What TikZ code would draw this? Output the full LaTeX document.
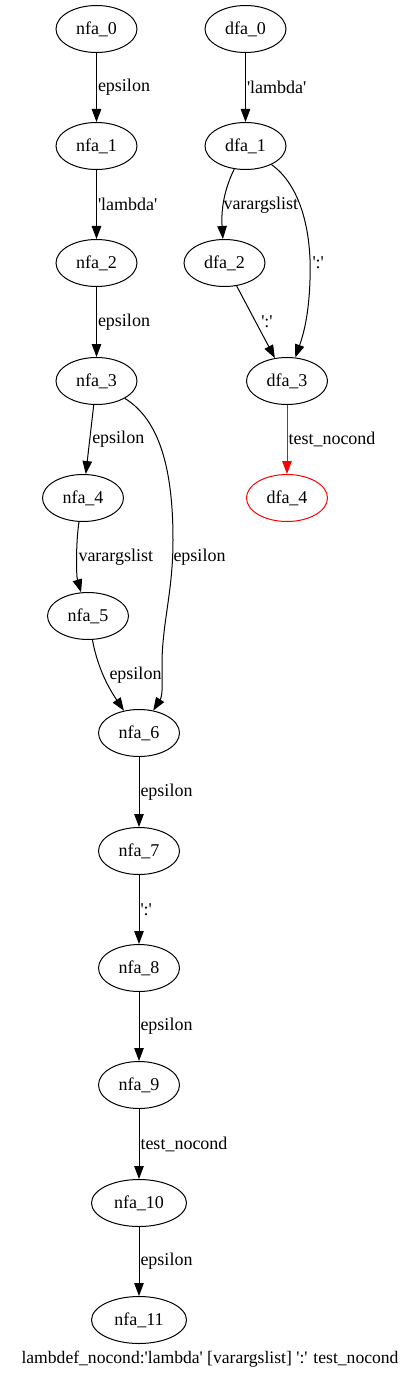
\documentclass[tikz,border=0pt]{standalone}
\usepackage{fontspec}
\setmainfont{Liberation Serif}
\usetikzlibrary{shapes.geometric,arrows.meta}
\newcommand{\sq}{\textquotesingle}
\begin{document}
\begin{tikzpicture}[x=1pt,y=-1pt,
  st/.style={ellipse,draw,line width=1pt,minimum width=81pt,minimum height=47pt,inner sep=0pt,font=\fontsize{18}{21}\selectfont},
  wide/.style={minimum width=95pt},
  e/.style={draw,line width=1pt,-{Triangle[length=13pt,width=9.5pt]}},
  lab/.style={font=\fontsize{18}{21}\selectfont,inner sep=1pt,anchor=west,text=black}]
\useasboundingbox (0,0) rectangle (419,1380);
\node[st] (n0) at (96.5,29) {nfa\_0};
\node[st] (n1) at (96.5,146) {nfa\_1};
\node[st] (n2) at (96.5,263) {nfa\_2};
\node[st] (n3) at (96.5,381) {nfa\_3};
\node[st] (n4) at (83,498) {nfa\_4};
\node[st] (n5) at (88,616) {nfa\_5};
\node[st] (n6) at (139,733) {nfa\_6};
\node[st] (n7) at (139,851) {nfa\_7};
\node[st] (n8) at (139,968) {nfa\_8};
\node[st] (n9) at (139,1085) {nfa\_9};
\node[st,wide] (n10) at (139,1203) {nfa\_10};
\node[st,wide] (n11) at (139,1320) {nfa\_11};
\node[st] (d0) at (245.5,29) {dfa\_0};
\node[st] (d1) at (245.5,146) {dfa\_1};
\node[st] (d2) at (224.5,263) {dfa\_2};
\node[st] (d3) at (287,381) {dfa\_3};
\node[st,draw=red] (d4) at (287,498) {dfa\_4};
\node[font=\fontsize{17.6}{21}\selectfont,inner sep=0pt] (title) at (210,1359) {lambdef\_nocond:\sq lambda\sq{} [varargslist] \sq:\sq{} test\_nocond};
% nfa edges
\draw[e] (n0) -- node[lab]{epsilon} (n1);
\draw[e] (n1) -- node[lab]{\sq lambda\sq} (n2);
\draw[e] (n2) -- node[lab]{epsilon} (n3);
\draw[e] (n3) -- node[lab,xshift=1pt]{epsilon} (n4);
\draw[e] (n4) .. controls (76,540) and (76,575) .. (n5) node[lab] at (77,557) {varargslist};
\draw[e] (n5) .. controls (98,670) and (110,690) .. (n6) node[lab] at (108,675) {epsilon};
\draw[e] (n3) .. controls (160,420) and (173,470) .. (173,540) .. controls (173,590) and (163,620) .. (162,660) .. controls (162,685) and (163,695) .. (n6) node[lab] at (172,557) {epsilon};
\draw[e] (n6) -- node[lab]{epsilon} (n7);
\draw[e] (n7) -- node[lab]{\sq:\sq} (n8);
\draw[e] (n8) -- node[lab]{epsilon} (n9);
\draw[e] (n9) -- node[lab]{test\_nocond} (n10);
\draw[e] (n10) -- node[lab]{epsilon} (n11);
% dfa edges
\draw[e] (d0) -- node[lab]{\sq lambda\sq} (d1);
\draw[e] (d1) .. controls (224,190) and (221,210) .. (d2) node[lab] at (222,205) {varargslist};
\draw[e] (d1) .. controls (300,185) and (312,230) .. (310,280) .. controls (309,310) and (305,330) .. (d3) node[lab] at (311,263) {\sq:\sq};
\draw[e] (d2) -- node[lab,xshift=4pt]{\sq:\sq} (d3);
\draw[e,draw=red,fill=red] (d3) -- node[lab]{test\_nocond} (d4);
\end{tikzpicture}
\end{document}
